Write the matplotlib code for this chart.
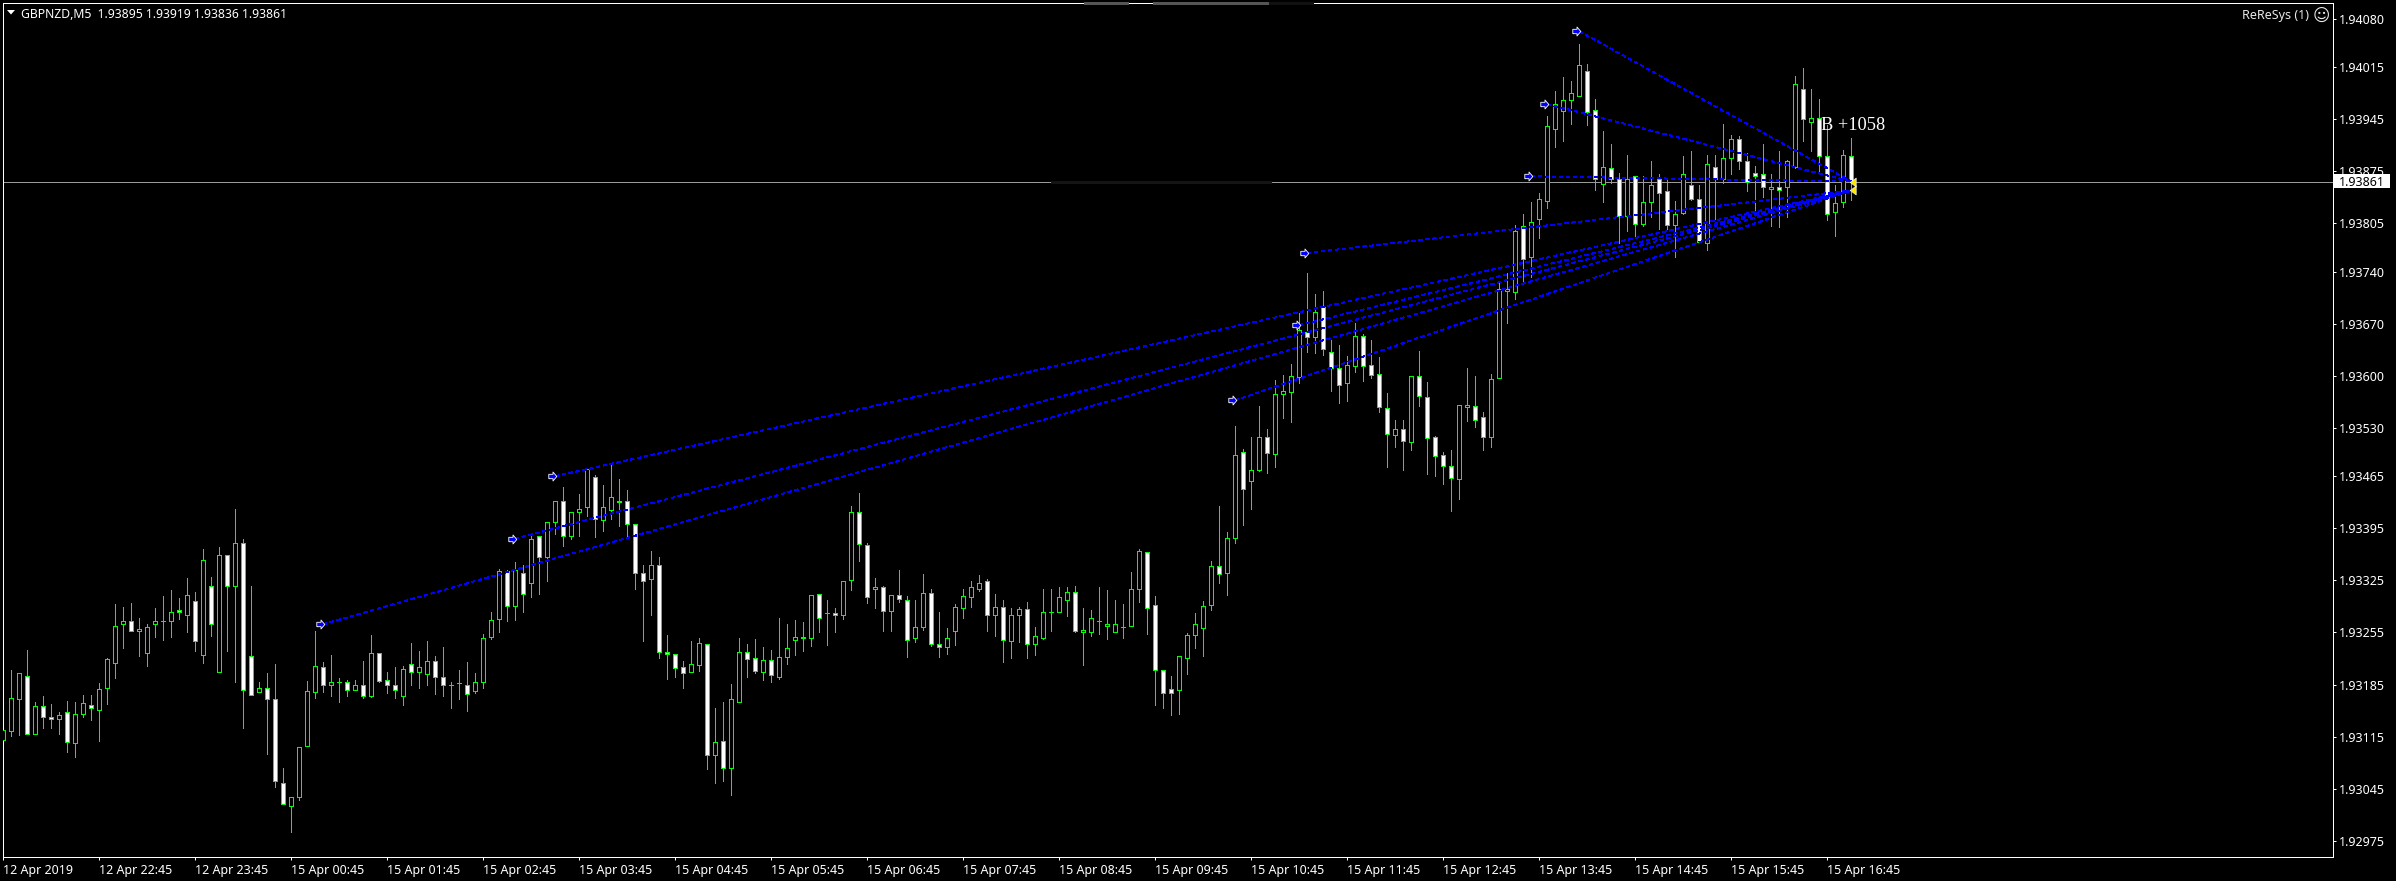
import matplotlib
matplotlib.use('Agg')
from matplotlib import pyplot as plt
from matplotlib.patches import Rectangle, Polygon
from matplotlib.lines import Line2D
from matplotlib.path import Path
import numpy as np

# GBPNZD M5 candles, prices in points (1/100000)
opens = [193111,193123,193165,193196,193119,193156,193142,193138,193148,193107,
         193145,193158,193151,193180,193214,193267,193270,193257,193228,193267,
         193271,193271,193285,193278,193297,193225,193317,193202,193359,193318,
         193375,193223,193175,193181,193165,193052,193022,193034,193102,193175,
         193208,193185,193189,193189,193177,193185,193169,193227,193191,193184,
         193170,193212,193202,193199,193217,193195,193185,193187,193185,193176,
         193188,193249,193273,193338,193290,193335,193321,193384,193356,193403,
         193431,193385,193417,193424,193464,193406,193419,193430,193431,193401,
         193335,193327,193346,193229,193226,193208,193202,193211,193240,193090,
         193109,193073,193161,193229,193220,193202,193218,193195,193222,193245,
         193247,193247,193306,193281,193281,193278,193325,193417,193372,193313,
         193316,193284,193305,193298,193247,193262,193308,193239,193235,193257,
         193288,193303,193314,193324,193278,193289,193243,193278,193286,193239,
         193248,193282,193282,193298,193310,193256,193255,193270,193264,193256,
         193262,193264,193314,193363,193292,193204,193179,193178,193220,193251,
         193261,193292,193344,193335,193382,193498,193459,193473,193517,193495,
         193576,193578,193598,193659,193652,193692,193632,193610,193590,193613,
         193653,193614,193602,193556,193520,193528,193511,193600,193571,193517,
         193494,193479,193461,193558,193559,193544,193518,193597,193714,193713,
         193801,193759,193810,193835,193932,193956,193971,193976,194010,193957,
         193858,193879,193864,193814,193869,193804,193833,193864,193848,193803,
         193819,193857,193837,193779,193881,193864,193892,193918,193889,193872,
         193871,193851,193853,193854,193880,193985,193941,193947,193895,193820,
         193833,193895]
highs = [193124,193205,193201,193231,193161,193170,193159,193148,193163,193162,
         193171,193171,193187,193220,193293,193289,193295,193274,193266,193288,
         193304,193312,193301,193328,193309,193367,193330,193370,193359,193421,
         193381,193317,193188,193201,193213,193073,193034,193101,193190,193257,
         193215,193225,193194,193191,193191,193217,193252,193228,193202,193209,
         193210,193241,193230,193244,193224,193235,193188,193204,193215,193201,
         193253,193282,193340,193339,193350,193345,193385,193385,193404,193432,
         193451,193417,193441,193475,193467,193453,193480,193461,193447,193401,
         193346,193365,193357,193251,193226,193216,193243,193247,193240,193154,
         193162,193186,193247,193239,193246,193235,193232,193274,193266,193272,
         193269,193305,193306,193299,193288,193324,193425,193442,193375,193328,
         193317,193305,193339,193304,193299,193334,193313,193283,193261,193293,
         193313,193324,193332,193327,193307,193299,193288,193289,193296,193262,
         193313,193313,193316,193316,193317,193288,193285,193316,193312,193299,
         193293,193336,193367,193363,193304,193204,193197,193224,193254,193281,
         193297,193351,193425,193390,193533,193501,193517,193559,193529,193594,
         193601,193616,193684,193738,193710,193714,193648,193641,193626,193671,
         193656,193648,193625,193577,193541,193540,193600,193633,193591,193519,
         193497,193500,193561,193610,193599,193551,193602,193724,193738,193802,
         193817,193834,193846,193949,193983,194001,193996,194046,194019,193972,
         193929,193912,193872,193897,193869,193868,193888,193871,193863,193835,
         193895,193902,193856,193897,193897,193938,193924,193922,193899,193882,
         193911,193871,193902,193890,194003,194013,193986,193972,193937,193856,
         193903,193919]
lows = [193092,193116,193117,193119,193119,193127,193127,193119,193094,193088,
        193142,193137,193109,193159,193194,193234,193257,193223,193210,193249,
        193245,193249,193273,193256,193230,193214,193250,193202,193230,193188,
        193127,193171,193175,193092,193047,193024,192987,193030,193102,193167,
        193175,193170,193162,193170,193177,193167,193168,193188,193174,193167,
        193158,193185,193180,193185,193172,193170,193153,193165,193150,193173,
        193181,193246,193256,193270,193272,193282,193302,193307,193324,193387,
        193371,193381,193384,193412,193383,193391,193408,193398,193385,193313,
        193244,193279,193221,193192,193195,193180,193202,193203,193071,193053,
        193056,193036,193161,193195,193201,193191,193188,193193,193212,193225,
        193230,193237,193256,193238,193256,193273,193312,193351,193295,193288,
        193257,193257,193296,193222,193242,193258,193237,193222,193226,193238,
        193274,193289,193311,193257,193250,193215,193221,193242,193221,193225,
        193246,193257,193282,193277,193255,193211,193250,193253,193246,193256,
        193248,193264,193296,193253,193158,193154,193144,193145,193199,193234,
        193224,193285,193322,193305,193375,193400,193421,193472,193469,193477,
        193543,193538,193590,193632,193630,193628,193580,193564,193566,193605,
        193593,193597,193551,193477,193504,193473,193500,193559,193468,193465,
        193454,193418,193435,193539,193531,193500,193504,193597,193671,193703,
        193726,193733,193785,193825,193907,193915,193938,193976,193937,193850,
        193834,193859,193778,193795,193788,193801,193813,193797,193797,193760,
        193818,193836,193780,193769,193811,193859,193871,193878,193848,193820,
        193840,193801,193800,193813,193879,193915,193902,193872,193809,193788,
        193827,193836]
closes = [193124,193167,193201,193119,193156,193141,193138,193144,193108,193145,
          193160,193154,193179,193219,193263,193271,193257,193259,193262,193271,
          193271,193282,193282,193305,193244,193352,193266,193359,193318,193375,
          193177,193171,193181,193165,193056,193024,193034,193101,193176,193210,
          193185,193189,193189,193178,193185,193169,193227,193190,193185,193177,
          193206,193202,193208,193216,193195,193184,193185,193187,193172,193189,
          193248,193272,193338,193290,193339,193307,193381,193356,193404,193431,
          193385,193417,193421,193475,193407,193423,193437,193432,193401,193335,
          193324,193346,193229,193226,193207,193200,193212,193241,193090,193108,
          193073,193165,193229,193219,193203,193218,193198,193222,193234,193249,
          193249,193305,193275,193281,193278,193324,193417,193374,193302,193316,
          193284,193305,193300,193245,193262,193308,193240,193235,193247,193289,
          193304,193316,193322,193278,193289,193245,193278,193286,193239,193250,
          193283,193283,193302,193309,193257,193258,193274,193271,193266,193266,
          193262,193313,193365,193288,193205,193173,193173,193223,193251,193266,
          193291,193344,193333,193382,193494,193448,193473,193517,193496,193576,
          193579,193599,193662,193652,193685,193636,193610,193588,193614,193653,
          193613,193601,193558,193522,193528,193512,193599,193573,193516,193492,
          193479,193463,193561,193560,193541,193518,193596,193716,193716,193795,
          193757,193806,193837,193935,193965,193971,193980,194018,193955,193865,
          193880,193864,193814,193865,193804,193833,193856,193846,193803,193818,
          193871,193837,193780,193884,193864,193892,193918,193888,193861,193869,
          193853,193853,193850,193888,193992,193945,193946,193895,193818,193832,
          193896,193861]

# trades: entry bar, entry price, exit price (all closed on the last bar)
entry_bar = [40, 64, 69, 154, 162, 163, 191, 193, 197]
entry_price = [193266, 193381, 193465, 193567, 193668, 193765, 193868, 193965, 194063]
exit_price = [193849, 193849, 193849, 193849, 193849, 193849, 193861, 193861, 193861]
exit_levels = [193861, 193849]

price_ticks = [194080, 194015, 193945, 193875, 193805, 193740, 193670, 193600, 193530,
               193465, 193395, 193325, 193255, 193185, 193115, 193045, 192975]
time_labels = ['12 Apr 2019', '12 Apr 22:45', '12 Apr 23:45', '15 Apr 00:45', '15 Apr 01:45',
               '15 Apr 02:45', '15 Apr 03:45', '15 Apr 04:45', '15 Apr 05:45', '15 Apr 06:45',
               '15 Apr 07:45', '15 Apr 08:45', '15 Apr 09:45', '15 Apr 10:45', '15 Apr 11:45',
               '15 Apr 12:45', '15 Apr 13:45', '15 Apr 14:45', '15 Apr 15:45', '15 Apr 16:45']
label_step = 12

W, H = 2396, 881
FONT = 'Noto Sans'
LW = 0.72  # one pixel at dpi 100

def fx(x):
    return x / W

def fy(y):
    return 1 - y / H

fig = plt.figure(figsize=(W / 100, H / 100), dpi=100, facecolor='black')
ax = fig.add_axes([fx(2.5), fy(857.3), fx(2332.5 - 2.5), (857.3 - 2.5) / H], facecolor='black')

idx = np.arange(len(opens))
o = np.array(opens) / 1e5
h = np.array(highs) / 1e5
l = np.array(lows) / 1e5
c = np.array(closes) / 1e5
down = c < o

ax.vlines(idx, l, h, color='#00ff00', linewidth=LW, antialiased=False, zorder=2)
ax.bar(idx[~down], (c - o)[~down], bottom=o[~down], width=0.5, facecolor='black',
       edgecolor='#00ff00', linewidth=LW, antialiased=False, zorder=3)
ax.bar(idx[down], (o - c)[down], bottom=c[down], width=0.5, facecolor='white',
       edgecolor='#00ff00', linewidth=LW, antialiased=False, zorder=3)

# trade lines
last = idx[-1]
for b, p1, p2 in zip(entry_bar, entry_price, exit_price):
    ax.plot([b, last], [p1 / 1e5, p2 / 1e5], color='#0000ff', linewidth=LW,
            linestyle=(0, (4, 3.5)), antialiased=False, zorder=4)

arrow_in = Path([(-6.7, -2.2), (-2.5, -2.2), (-2.5, -4.5), (1.3, 0), (-2.5, 4.5), (-2.5, 2.2), (-6.7, 2.2), (-6.7, -2.2)])
ax.plot(entry_bar, np.array(entry_price) / 1e5, linestyle='none', marker=arrow_in, markersize=9.65,
        markerfacecolor='#0000ff', markeredgecolor='white', markeredgewidth=0.6, zorder=5)
arrow_out = Path([(-1.3, 0), (4.7, -4.5), (4.7, 4.5), (-1.3, 0)])
ax.plot([last, last], np.array(exit_levels) / 1e5, linestyle='none', marker=arrow_out, markersize=6.8,
        markerfacecolor='#ffe600', markeredgecolor='white', markeredgewidth=0.4, zorder=5)

ax.set_xlim((2.5 - 3.33) / 8, (2332.5 - 3.33) / 8)
ax.set_ylim(1.929528, 1.941016)

# current price line, broken where the screenshot was scrubbed
bid = closes[-1] / 1e5
ax.axhline(bid, color='#9a9a9a', linewidth=LW, antialiased=False, zorder=1)
ax.plot([(1052 - 3.33) / 8, (1270 - 3.33) / 8], [bid, bid], color='#141414', linewidth=1.0,
        antialiased=False, zorder=1.5)

for s in ax.spines.values():
    s.set_color('white')
    s.set_linewidth(LW)

ax.yaxis.tick_right()
ax.set_yticks(np.array(price_ticks) / 1e5)
ax.set_yticklabels(['%.5f' % (t / 1e5) for t in price_ticks], fontfamily=FONT, fontsize=9, color='white')
ax.set_xticks(idx[::label_step])
ax.set_xticklabels(time_labels, fontfamily=FONT, fontsize=9, color='white', ha='left')
ax.tick_params(axis='both', length=2.2, width=LW, color='white', pad=2.7)

# scrubbed parts of the top border
for x1, x2, col in [(1085, 1127, '#555555'), (1154, 1270, '#555555'), (1270, 1312, '#111111')]:
    fig.add_artist(Line2D([fx(x1), fx(x2)], [fy(2.5), fy(2.5)], color=col, linewidth=1.0, antialiased=False))

# price tag on the axis
fig.add_artist(Rectangle((fx(2334), fy(187.7)), fx(56), 13.7 / H, facecolor='white', edgecolor='none'))
fig.text(fx(2339.3), fy(181), '%.5f' % bid, fontfamily=FONT, fontsize=9, color='black', ha='left', va='center_baseline')

# header
fig.add_artist(Polygon([(fx(7), fy(10)), (fx(15), fy(10)), (fx(11), fy(14.5))], closed=True, facecolor='white', edgecolor='none'))
fig.text(fx(21), fy(12.5), 'GBPNZD,M5  1.93895 1.93919 1.93836 1.93861', fontfamily=FONT, fontsize=8.8,
         color='white', ha='left', va='center_baseline')
fig.text(fx(2241.7), fy(13.5), 'ReReSys (1)', fontfamily=FONT, fontsize=9, color='#e8e8e8', ha='left', va='center_baseline')
fig.text(fx(2321), fy(14), '\u263a', fontfamily='DejaVu Sans', fontsize=12, color='#e8e8e8', ha='center', va='center_baseline')

fig.text(fx(1820.7), fy(124), 'B +1058', fontfamily='Liberation Serif', fontsize=13.2, color='white',
         ha='left', va='center_baseline', zorder=6)

fig.savefig('out.png', dpi=100, facecolor='black')
